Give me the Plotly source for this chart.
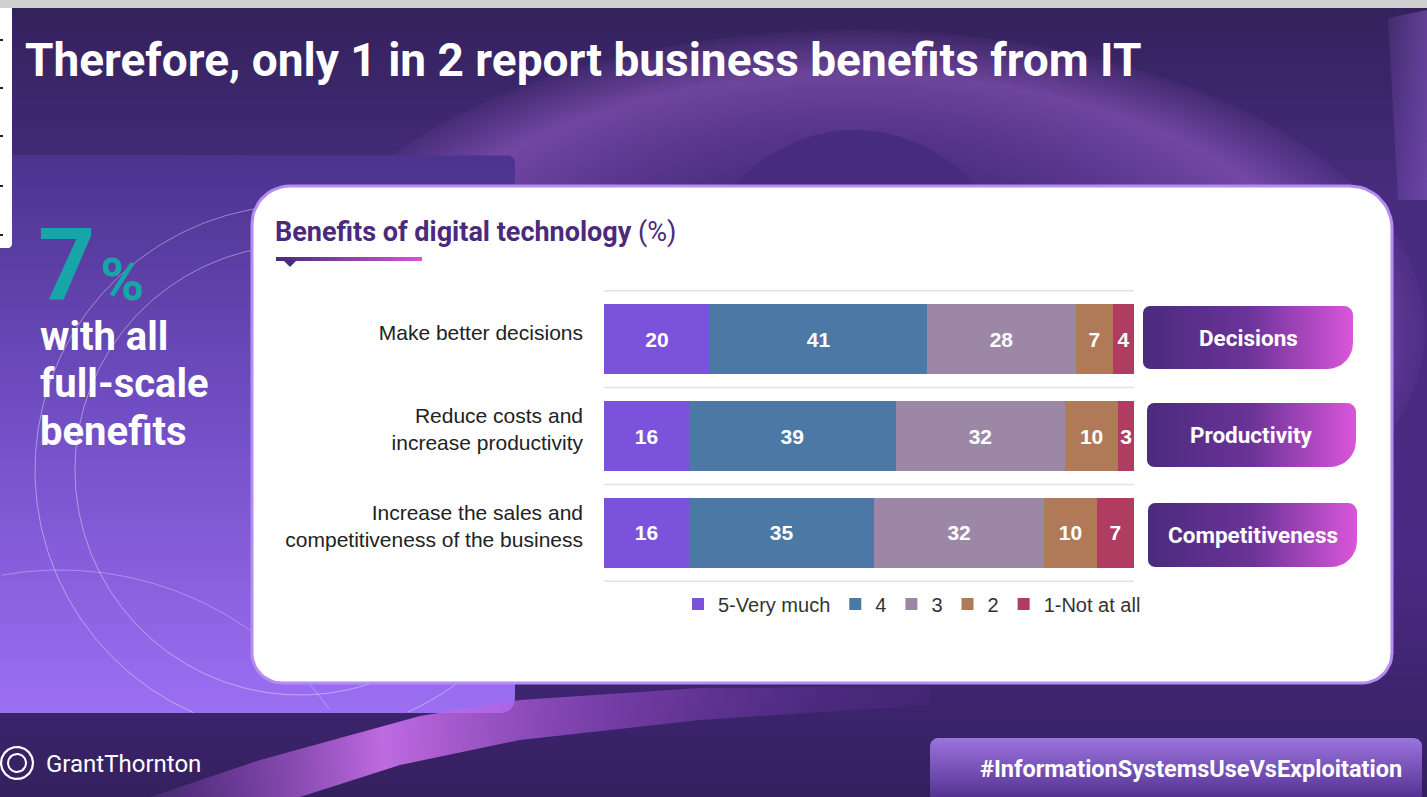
import numpy as np
import plotly.graph_objects as go

W, H = 1427, 797

# ---------------- data ----------------
categories = ["Make better decisions",
              "Reduce costs and increase productivity",
              "Increase the sales and competitiveness of the business"]
category_labels = ["Make better decisions",
                   "Reduce costs and<br>increase productivity",
                   "Increase the sales and<br>competitiveness of the business"]
series_names = ["5-Very much", "4", "3", "2", "1-Not at all"]
very_much = [20, 16, 16]
rating_4 = [41, 39, 35]
rating_3 = [28, 32, 32]
rating_2 = [7, 10, 10]
not_at_all = [4, 3, 7]
short_labels = ["Decisions", "Productivity", "Competitiveness"]
headline_value = "7"
headline_text = ["with all", "full-scale", "benefits"]
title_text = "Therefore, only 1 in 2 report business benefits from IT"
chart_title = "Benefits of digital technology"
hashtag = "#InformationSystemsUseVsExploitation"

series_colors = ["#7b52dc", "#4b78a4", "#9c88a6", "#b07a58", "#b03c62"]

fig = go.Figure()


# ---------------- decoration helpers (pixel space axis) ----------------
def rrect(x0, y0, x1, y1, rtl=0, rtr=0, rbr=0, rbl=0, n=14):
    pts = []

    def arc(cx, cy, r, a0, a1):
        if r <= 0:
            return [(cx, cy)]
        t = np.linspace(a0, a1, n)
        return list(zip(cx + r * np.cos(t), cy + r * np.sin(t)))

    pts += arc(x0 + rtl, y0 + rtl, rtl, np.pi, 1.5 * np.pi)
    pts += arc(x1 - rtr, y0 + rtr, rtr, 1.5 * np.pi, 2 * np.pi)
    pts += arc(x1 - rbr, y1 - rbr, rbr, 0, 0.5 * np.pi)
    pts += arc(x0 + rbl, y1 - rbl, rbl, 0.5 * np.pi, np.pi)
    pts.append(pts[0])
    xs, ys = zip(*pts)
    return list(xs), list(ys)


def ellipse(cx, cy, rx, ry, n=160):
    t = np.linspace(0, 2 * np.pi, n)
    return list(cx + rx * np.cos(t)), list(cy + ry * np.sin(t))


def deco(xs, ys, color=None, grad=None, gtype="horizontal", line=None, lw=0, fill=True):
    kw = dict(x=xs, y=ys, mode="lines", xaxis="x", yaxis="y",
              hoverinfo="skip", showlegend=False)
    if fill:
        kw["fill"] = "toself"
        if grad is not None:
            kw["fillgradient"] = dict(type=gtype, colorscale=grad)
        else:
            kw["fillcolor"] = color
    kw["line"] = dict(width=lw, color=line or "rgba(0,0,0,0)")
    fig.add_trace(go.Scatter(**kw))


def clipped_arc(cx, cy, r, box, n=400):
    t = np.linspace(0, 2 * np.pi, n)
    xs, ys = [], []
    for a in t:
        x, y = cx + r * np.cos(a), cy + r * np.sin(a)
        if box[0] <= x <= box[2] and box[1] <= y <= box[3]:
            xs.append(x); ys.append(y)
        else:
            xs.append(None); ys.append(None)
    return xs, ys


# background (vertical gradients: 0 = bottom of the page, 1 = top)
deco(*rrect(0, 0, W, H), grad=[[0, "#34205e"], [0.3, "#4a2a84"], [0.75, "#472c7e"], [1, "#33215a"]],
     gtype="vertical")
deco(*ellipse(855, 330, 570, 300),
     grad=[[0, "rgba(175,105,225,0)"], [0.55, "rgba(175,105,225,0.08)"],
           [0.85, "rgba(185,115,232,0.40)"], [1, "rgba(185,115,232,0.05)"]], gtype="radial")
deco(*ellipse(855, 330, 175, 200), color="#472c7e")
deco([1388, 1427, 1427, 1398, 1388], [18, 10, 200, 200, 18],
     grad=[[0, "rgba(150,100,215,0.15)"], [1, "rgba(150,100,215,0.45)"]])
# left panel
deco(*rrect(0, 155, 515, 713, rbr=14, rtr=8),
     grad=[[0, "#9c6ff2"], [0.5, "#7450c8"], [1, "#4c338e"]], gtype="vertical")
for r in (265, 225):
    ax, ay = clipped_arc(300, 470, r, (0, 155, 515, 713))
    deco(ax, ay, fill=False, line="rgba(255,255,255,0.4)", lw=1)
ax, ay = clipped_arc(60, 900, 330, (0, 155, 515, 713))
deco(ax, ay, fill=False, line="rgba(255,255,255,0.3)", lw=1)
# bottom swoosh
deco([150, 260, 420, 520, 700, 930, 930, 700, 520, 400, 300, 150],
     [797, 760, 716, 700, 688, 686, 705, 720, 740, 765, 797, 797],
     grad=[[0, "rgba(160,80,210,0.15)"], [0.3, "rgba(205,115,238,0.9)"],
           [0.6, "rgba(160,80,210,0.55)"], [1, "rgba(100,50,160,0.1)"]])
# white panel
deco(*rrect(252, 186, 1392, 683, rtl=38, rtr=42, rbr=30, rbl=30), color="#ffffff",
     line="#b48cf2", lw=3)
# chart-title underline and pointer
deco(*rrect(276, 257, 422, 261), grad=[[0, "#4a2a7a"], [1, "#d555d8"]])
deco([283, 297, 290, 283], [260, 260, 267, 260], color="#4a2a7a")
# pills
pill_boxes = [(1143, 306, 1353, 369), (1147, 403, 1356, 467), (1148, 503, 1357, 567)]
for (x0, y0, x1, y1) in pill_boxes:
    deco(*rrect(x0, y0, x1, y1, rtl=7, rtr=9, rbr=26, rbl=7),
         grad=[[0, "#4a2b7c"], [0.5, "#6b3398"], [1, "#da56da"]])
# hashtag box
deco(*rrect(930, 738, 1422, 805, rtl=8, rtr=8), grad=[[0, "#4b2a88"], [1, "#9b74de"]],
     gtype="vertical")
# top strip and left white strip
deco(*rrect(0, 0, W, 8), color="#cfcfcf")
deco(*rrect(0, 8, 12, 248, rbr=4), color="#ffffff")
for ty in (40, 88, 136, 186, 235):
    deco([0, 3], [ty, ty], fill=False, line="#222222", lw=2)
# logo icon
deco(*ellipse(17, 763, 16, 16), fill=False, line="#ffffff", lw=2.2)
t = np.linspace(0.2 * np.pi, 1.3 * np.pi, 30)
deco(list(17 + 9 * np.cos(t)), list(763 + 9 * np.sin(t)), fill=False, line="#ffffff", lw=2)
t = np.linspace(1.2 * np.pi, 2.3 * np.pi, 30)
deco(list(17 + 9 * np.cos(t)), list(763 + 9 * np.sin(t)), fill=False, line="#ffffff", lw=2)

# ---------------- bars ----------------
series = [very_much, rating_4, rating_3, rating_2, not_at_all]
for name, vals, col in zip(series_names, series, series_colors):
    fig.add_trace(go.Bar(
        y=categories, x=vals, name=name, orientation="h", xaxis="x2", yaxis="y2",
        marker=dict(color=col, line=dict(width=0)),
        text=vals, texttemplate="<b>%{x}</b>", textposition="inside",
        insidetextanchor="middle", constraintext="none",
        textfont=dict(family="Liberation Sans, Arial", size=21, color="white"),
        hoverinfo="skip"))

shapes = []
for b in (-0.5, 0.5, 1.5, 2.5):
    shapes.append(dict(type="line", xref="x2", yref="y2", x0=0, x1=100, y0=b, y1=b,
                       line=dict(color="#e2e2e2", width=1.5), layer="above"))


# ---------------- text ----------------
def ann(x, y, text, size, color="#ffffff", family="Roboto", xanchor="left"):
    return dict(x=x / W, y=1 - y / H, xref="paper", yref="paper", text=text, showarrow=False,
                xanchor=xanchor, yanchor="middle",
                font=dict(family=family, size=size, color=color))


annotations = [
    ann(23, 60, "<b>" + title_text + "</b>", 46),
    ann(273, 232, "<b>" + chart_title + "</b> (%)", 27, color="#4b2a7d"),
    ann(36, 264, "<b>" + headline_value + "</b>", 100, color="#17a5a8"),
    ann(98, 279, "<b>%</b>", 60, color="#17a5a8"),
    ann(44, 764, "GrantThornton", 24),
    ann(1191, 769, "<b>" + hashtag + "</b>", 23.5, xanchor="center"),
]
for i, line in enumerate(headline_text):
    annotations.append(ann(38, 336 + i * 47.5, "<b>" + line + "</b>", 40))
for lab, (x0, y0, x1, y1) in zip(short_labels, pill_boxes):
    annotations.append(ann((x0 + x1) / 2, (y0 + y1) / 2, "<b>" + lab + "</b>", 22.5,
                           xanchor="center"))

fig.update_layout(
    width=W, height=H, autosize=False,
    margin=dict(l=0, r=0, t=0, b=0, pad=0),
    paper_bgcolor="#3e2670", plot_bgcolor="rgba(0,0,0,0)",
    barmode="stack", bargap=0.28,
    xaxis=dict(domain=[0, 1], range=[0, W], visible=False, fixedrange=True),
    yaxis=dict(domain=[0, 1], range=[H, 0], visible=False, fixedrange=True),
    xaxis2=dict(domain=[604 / W, 1134 / W], range=[0, 100], visible=False, anchor="y2",
                fixedrange=True),
    yaxis2=dict(domain=[1 - 582 / H, 1 - 290 / H], anchor="x2", categoryorder="array",
                categoryarray=categories, autorange="reversed", tickvals=categories,
                ticktext=category_labels, showgrid=False, showline=False, zeroline=False,
                ticks="", ticklabelstandoff=20, ticklabelshift=7, fixedrange=True,
                tickfont=dict(family="Liberation Sans, Arial", size=21, color="#222222")),
    legend=dict(orientation="h", x=912 / W, xanchor="center", y=1 - 604 / H, yanchor="middle",
                font=dict(family="Liberation Sans, Arial", size=20, color="#333333"),
                bgcolor="rgba(0,0,0,0)", traceorder="normal", itemclick=False,
                itemdoubleclick=False, itemwidth=30),
    shapes=shapes, annotations=annotations,
)

fig.write_html("out.html", config={"displayModeBar": False},
               post_script="document.body.style.margin='0';document.body.style.overflow='hidden';")
